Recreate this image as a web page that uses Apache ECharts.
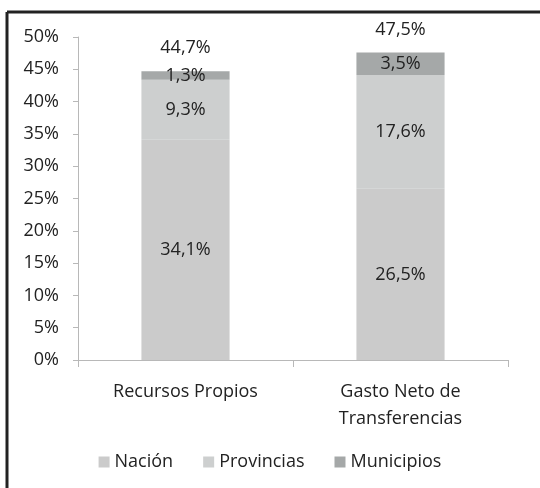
<!DOCTYPE html>
<html>
<head>
<meta charset="utf-8">
<script src="https://cdn.jsdelivr.net/npm/echarts@6/dist/echarts.min.js"></script>
<style>
  html, body { margin: 0; padding: 0; background: #fff; }
  #chart { width: 540px; height: 488px; }
</style>
</head>
<body>
<div id="chart"></div>
<script>
// datos
var categorias = ["Recursos Propios", "Gasto Neto de\nTransferencias"];
var nacion = [34.1, 26.5];
var provincias = [9.3, 17.6];
var municipios = [1.3, 3.5];
var totales = [44.7, 47.5];
var ticksY = [0, 5, 10, 15, 20, 25, 30, 35, 40, 45, 50];

var fuente = "Open Sans";
var tam = 18;
var fmt = function (v) {
  return v.toFixed(1).replace(".", ",") + "%";
};

var chart = echarts.init(document.getElementById("chart"));

var etiqueta = {
  show: true,
  position: "inside",
  color: "#222",
  fontFamily: fuente,
  fontSize: tam,
  formatter: function (p) { return fmt(p.value); }
};

chart.setOption({
  animation: false,
  grid: { left: 78, right: 32, top: 37, bottom: 128 },
  legend: {
    data: ["Nación", "Provincias", "Municipios"],
    bottom: 12,
    left: "center",
    icon: "rect",
    itemWidth: 11,
    itemHeight: 11,
    itemGap: 30,
    textStyle: { color: "#222", fontFamily: fuente, fontSize: tam }
  },
  xAxis: {
    type: "category",
    data: categorias,
    axisLine: { lineStyle: { color: "#b8b8b8" } },
    axisTick: { show: true, length: 7, lineStyle: { color: "#b8b8b8" } },
    axisLabel: {
      color: "#222",
      fontFamily: fuente,
      fontSize: tam,
      margin: 18,
      lineHeight: 27
    }
  },
  yAxis: {
    type: "value",
    min: ticksY[0],
    max: ticksY[ticksY.length - 1],
    interval: 5,
    axisLine: { show: true, lineStyle: { color: "#b8b8b8" } },
    axisTick: { show: true, length: 5, lineStyle: { color: "#b8b8b8" } },
    splitLine: { show: false },
    axisLabel: {
      color: "#222",
      fontFamily: fuente,
      fontSize: tam,
      margin: 19,
      formatter: "{value}%"
    }
  },
  series: [
    {
      name: "Nación",
      type: "bar",
      stack: "total",
      barWidth: "41%",
      itemStyle: { color: "#cbcbcb" },
      label: etiqueta,
      data: nacion
    },
    {
      name: "Provincias",
      type: "bar",
      stack: "total",
      itemStyle: { color: "#cdcfcf" },
      label: etiqueta,
      data: provincias
    },
    {
      name: "Municipios",
      type: "bar",
      stack: "total",
      itemStyle: { color: "#a5a8a8" },
      label: etiqueta,
      data: municipios
    },
    {
      // totales encima de cada barra
      name: "Total",
      type: "scatter",
      symbolSize: 1,
      itemStyle: { color: "rgba(0,0,0,0)", opacity: 1 },
      silent: true,
      label: {
        show: true,
        position: "top",
        distance: 14,
        color: "#222",
        opacity: 1,
        fontFamily: fuente,
        fontSize: tam,
        formatter: function (p) { return fmt(p.value); }
      },
      data: totales
    }
  ],
  graphic: [
    { type: "line", shape: { x1: 7, y1: 12, x2: 540, y2: 12 }, style: { stroke: "#222", lineWidth: 3 } },
    { type: "line", shape: { x1: 7, y1: 12, x2: 7, y2: 488 }, style: { stroke: "#222", lineWidth: 3 } }
  ]
});
</script>
</body>
</html>
